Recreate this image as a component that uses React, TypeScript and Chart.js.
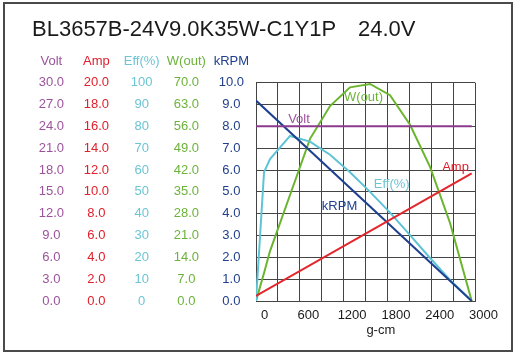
import React, { useEffect, useRef } from 'react';
import { Chart, registerables } from 'chart.js';

Chart.register(...registerables);

// ---- text ----
const TITLE_MODEL = 'BL3657B-24V9.0K35W-C1Y1P';
const TITLE_VOLT = '24.0V';
const X_TITLE = 'g-cm';

// ---- data (torque in g-cm) ----
const torque = [0, 110, 192, 466, 740, 1014, 1288, 1562, 1836, 2110, 2384, 2658, 2955];
const effValues = [0, 59, 65, 75.6, 73, 67, 59, 50, 40.5, 30.2, 19.7, 9.6, 0];
const powerValues = [0, 9, 16, 34, 52, 62.5, 68.5, 69.6, 66, 56.5, 43, 25, 0];
const lineTorque = [0, 2955];
const speedValues = [9.18, 0];
const currentValues = [0.46, 11.7];
const voltValues = [24, 24];

// ---- axis ticks ----
const xLabelTicks = [0, 600, 1200, 1800, 2400, 3000];
const voltMax = 30;
const ampMax = 20;
const effMax = 100;
const powerMax = 70;
const speedMax = 10;

const FONT = '"Liberation Sans", Arial, Helvetica, sans-serif';

const axesInfo = [
  { id: 'yVolt', name: 'Volt', max: voltMax, decimals: 1, text: '#9c529c', weight: 5, pad: 12 },
  { id: 'yAmp', name: 'Amp', max: ampMax, decimals: 1, text: '#e0202c', weight: 4, pad: 12 },
  { id: 'yEff', name: 'Eff(%)', max: effMax, decimals: 0, text: '#6cc5d3', weight: 3, pad: 13.5 },
  { id: 'yW', name: 'W(out)', max: powerMax, decimals: 1, text: '#6cb33a', weight: 2, pad: 12 },
  { id: 'yRpm', name: 'kRPM', max: speedMax, decimals: 1, text: '#22418e', weight: 1, pad: 12 },
];

const inlineLabels = [
  { text: 'W(out)', x: 1473, y: 9.32, color: '#6cb33a' },
  { text: 'Volt', x: 589, y: 8.34, color: '#9c529c' },
  { text: 'Eff(%)', x: 1859, y: 5.35, color: '#6cc5d3' },
  { text: 'Amp', x: 2733, y: 6.12, color: '#e0202c' },
  { text: 'kRPM', x: 1144, y: 4.33, color: '#22418e' },
];

const pts = (xs: number[], ys: number[]) => xs.map((x, i) => ({ x, y: ys[i] }));

const decor = {
  id: 'decor',
  beforeDraw(chart: any) {
    const ctx = chart.ctx;
    ctx.save();
    ctx.fillStyle = '#ffffff';
    ctx.fillRect(0, 0, chart.width, chart.height);
    ctx.restore();
  },
  afterDraw(chart: any) {
    const ctx = chart.ctx;
    ctx.save();
    // outer frame
    ctx.strokeStyle = '#4a4a4a';
    ctx.lineWidth = 2;
    ctx.strokeRect(4, 3, 508, 348);
    // title
    ctx.fillStyle = '#1a1a1a';
    ctx.font = `22px ${FONT}`;
    ctx.textAlign = 'left';
    ctx.textBaseline = 'alphabetic';
    ctx.fillText(TITLE_MODEL, 32, 36);
    ctx.fillText(TITLE_VOLT, 358, 36);
    // axis headers
    ctx.font = `13px ${FONT}`;
    ctx.textAlign = 'center';
    axesInfo.forEach((a) => {
      const sc = chart.scales[a.id];
      const widest = ctx.measureText(a.max.toFixed(a.decimals)).width;
      const cx = sc.right - a.pad - widest / 2;
      ctx.fillStyle = a.text;
      ctx.fillText(a.name, cx, 65.3);
    });
    // inline labels
    const xs = chart.scales.x;
    const ys = chart.scales.yRpm;
    ctx.textBaseline = 'middle';
    inlineLabels.forEach((l) => {
      ctx.fillStyle = l.color;
      ctx.fillText(l.text, xs.getPixelForValue(l.x), ys.getPixelForValue(l.y));
    });
    // x title
    ctx.fillStyle = '#1a1a1a';
    ctx.textBaseline = 'alphabetic';
    ctx.fillText(X_TITLE, xs.getPixelForValue(1710), chart.chartArea.bottom + 33);
    ctx.restore();
  },
};

export default function App() {
  const ref = useRef<HTMLCanvasElement | null>(null);
  useEffect(() => {
    if (!ref.current) return;
    const yScales: any = {};
    axesInfo.forEach((a) => {
      const isMain = a.id === 'yRpm';
      yScales[a.id] = {
        type: 'linear',
        position: 'left',
        min: 0,
        max: a.max,
        weight: a.weight,
        ticks: {
          stepSize: a.max / 10,
          color: a.text,
          padding: a.pad,
          crossAlign: 'center',
          font: { family: FONT, size: 13 },
          callback: (v: any) => Number(v).toFixed(a.decimals),
        },
        grid: { display: isMain, color: '#444', lineWidth: 1, drawTicks: false },
        border: { display: isMain, color: '#444', width: 1 },
        afterFit: (axis: any) => {
          axis.width = 45;
        },
      };
    });
    const chart = new Chart(ref.current, {
      type: 'line',
      data: {
        datasets: [
          { label: 'Volt', data: pts(lineTorque, voltValues), yAxisID: 'yVolt', borderColor: '#8b3a8e', borderWidth: 2 },
          { label: 'Amp', data: pts(lineTorque, currentValues), yAxisID: 'yAmp', borderColor: '#e3262c', borderWidth: 2 },
          { label: 'kRPM', data: pts(lineTorque, speedValues), yAxisID: 'yRpm', borderColor: '#1f3f8f', borderWidth: 2 },
          { label: 'Eff(%)', data: pts(torque, effValues), yAxisID: 'yEff', borderColor: '#5ec3d4', borderWidth: 2 },
          { label: 'W(out)', data: pts(torque, powerValues), yAxisID: 'yW', borderColor: '#6ab42e', borderWidth: 2 },
        ],
      },
      options: {
        animation: false,
        responsive: false,
        devicePixelRatio: 1,
        elements: { point: { radius: 0 }, line: { tension: 0, fill: false } },
        layout: { padding: { left: 31, right: 41, top: 82.7, bottom: 34 } },
        plugins: { legend: { display: false }, tooltip: { enabled: false }, title: { display: false } },
        scales: {
          x: {
            type: 'linear',
            min: 0,
            max: 3000,
            ticks: {
              stepSize: 300,
              autoSkip: false,
              maxRotation: 0,
              padding: 7,
              labelOffset: 8.5,
              color: '#1a1a1a',
              font: { family: FONT, size: 13 },
              callback: (v: any) => (xLabelTicks.includes(Number(v)) ? String(v) : ''),
            },
            grid: { color: '#444', lineWidth: 1, drawTicks: false },
            border: { color: '#444', width: 1 },
            afterFit: (axis: any) => {
              axis.height = 20;
            },
          },
          ...yScales,
        },
      } as any,
      plugins: [decor],
    });
    return () => chart.destroy();
  }, []);
  return (
    <div style={{ position: 'absolute', left: 0, top: 0, width: 516, height: 355, background: '#fff' }}>
      <canvas ref={ref} width={516} height={355} style={{ display: 'block' }} />
    </div>
  );
}
